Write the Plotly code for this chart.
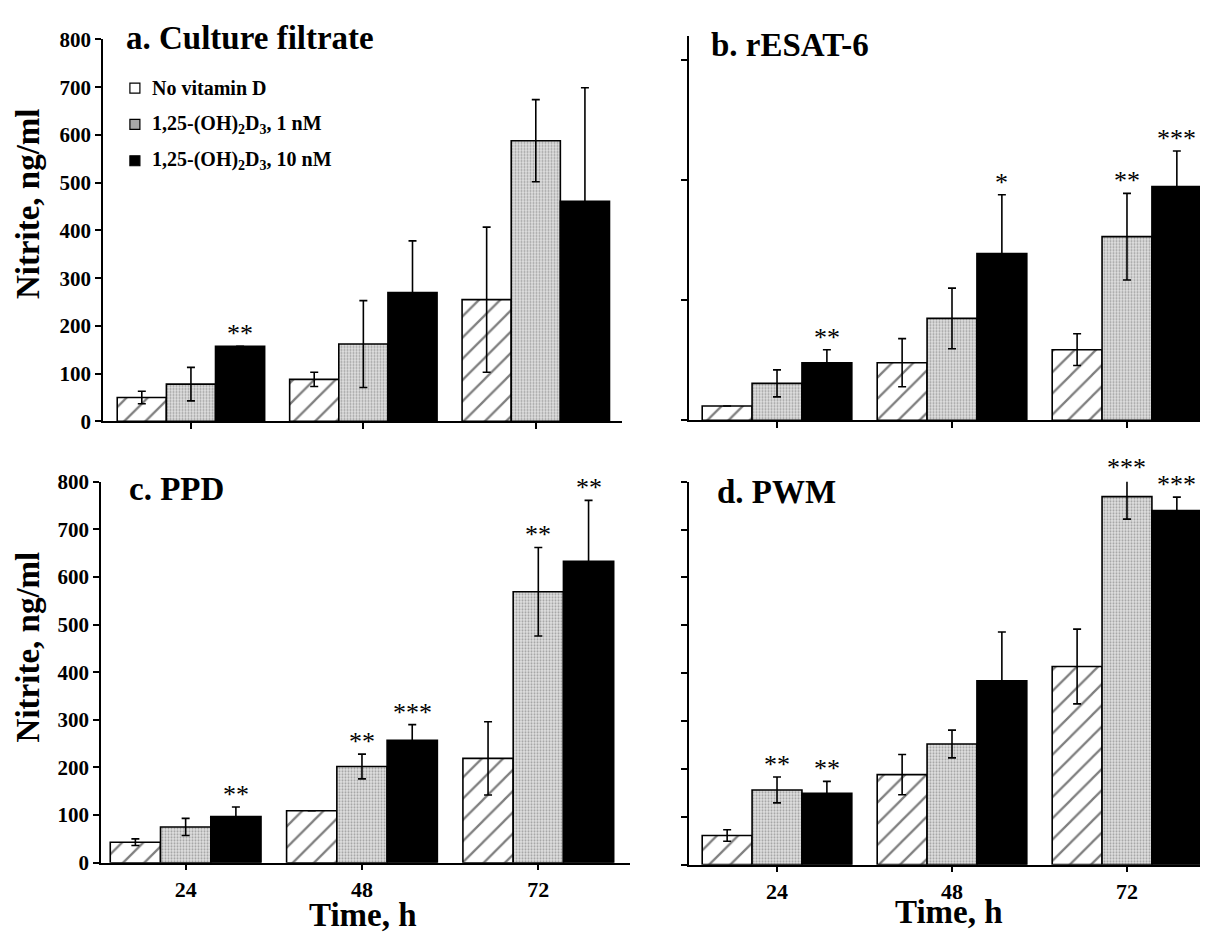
import plotly.graph_objects as go

# ---------------- data ----------------
times = ["24", "48", "72"]
series_names = [
    "No vitamin D",
    "1,25-(OH)<sub>2</sub>D<sub>3</sub>, 1 nM",
    "1,25-(OH)<sub>2</sub>D<sub>3</sub>, 10 nM",
]

# panel a: Culture filtrate
a_none = [50, 88, 255]
a_none_err = [13, 15, 152]
a_1nM = [78, 162, 588]
a_1nM_err = [35, 91, 86]
a_10nM = [157, 270, 461]
a_10nM_err = [0, 108, 238]
a_none_stars = ["", "", ""]
a_1nM_stars = ["", "", ""]
a_10nM_stars = ["**", "", ""]

# panel b: rESAT-6
b_none = [30, 120, 147]
b_none_err = [0, 50, 33]
b_1nM = [77, 212, 382]
b_1nM_err = [28, 63, 90]
b_10nM = [120, 347, 486]
b_10nM_err = [27, 122, 74]
b_none_stars = ["", "", ""]
b_1nM_stars = ["", "", "**"]
b_10nM_stars = ["**", "*", "***"]

# panel c: PPD
c_none = [43, 109, 219]
c_none_err = [7, 0, 77]
c_1nM = [75, 202, 569]
c_1nM_err = [18, 26, 93]
c_10nM = [97, 257, 633]
c_10nM_err = [20, 33, 128]
c_none_stars = ["", "", ""]
c_1nM_stars = ["", "**", "**"]
c_10nM_stars = ["**", "***", "**"]

# panel d: PWM
d_none = [61, 188, 414]
d_none_err = [12, 42, 78]
d_1nM = [156, 252, 769]
d_1nM_err = [27, 29, 47]
d_10nM = [149, 384, 740]
d_10nM_err = [25, 102, 28]
d_none_stars = ["", "", ""]
d_1nM_stars = ["**", "", "***"]
d_10nM_stars = ["**", "", "***"]

panel_titles = ["a. Culture filtrate", "b. rESAT-6", "c. PPD", "d. PWM"]
y_ticks_full = [0, 100, 200, 300, 400, 500, 600, 700, 800]
y_ticks_b = [0, 250, 500, 750]
x_title = "Time, h"
y_title = "Nitrite, ng/ml"

# ---------------- layout helpers ----------------
OFF = 8                      # page body margin of the browser
W, H = 1208 - OFF, 938 - OFF
FONT = "Liberation Serif"
YMAX = 800


def fx(px):
    return (px - OFF) / W


def fy(py):
    return 1 - (py - OFF) / H


BW = 0.285  # bar width in category units

panels = [
    dict(vals=[a_none, a_1nM, a_10nM], errs=[a_none_err, a_1nM_err, a_10nM_err],
         stars=[a_none_stars, a_1nM_stars, a_10nM_stars],
         xdom=(103, 622), ydom=(28, 420), xr=(-0.51, 2.5), yt=y_ticks_full,
         ylab=True, xlab=False, title=(124, 26)),
    dict(vals=[b_none, b_1nM, b_10nM], errs=[b_none_err, b_1nM_err, b_10nM_err],
         stars=[b_none_stars, b_1nM_stars, b_10nM_stars],
         xdom=(689, 1208), ydom=(24, 419), xr=(-0.503, 2.463), yt=y_ticks_b,
         ylab=False, xlab=False, title=(709, 34)),
    dict(vals=[c_none, c_1nM, c_10nM], errs=[c_none_err, c_1nM_err, c_10nM_err],
         stars=[c_none_stars, c_1nM_stars, c_10nM_stars],
         xdom=(101, 630), ydom=(482, 873), xr=(-0.48, 2.52), yt=y_ticks_full,
         ylab=True, xlab=True, title=(127, 489)),
    dict(vals=[d_none, d_1nM, d_10nM], errs=[d_none_err, d_1nM_err, d_10nM_err],
         stars=[d_none_stars, d_1nM_stars, d_10nM_stars],
         xdom=(689, 1208), ydom=(482, 875), xr=(-0.503, 2.463), yt=y_ticks_full,
         ylab=False, xlab=True, title=(715, 492)),
]


def bar_marker(k):
    line = dict(color="black", width=1.6)
    if k == 0:
        return dict(color="white", line=line,
                    pattern=dict(shape="/", fgcolor="black", bgcolor="white",
                                 size=15, solidity=0.15))
    if k == 1:
        return dict(color="#c8c8c8", line=line,
                    pattern=dict(shape=".", fgcolor="#5a5a5a", bgcolor="#e2e2e2",
                                 size=3, solidity=0.4))
    return dict(color="black", line=line)


fig = go.Figure()
annotations = []
layout_axes = {}

for p_i, p in enumerate(panels):
    n = p_i + 1
    xa = "x" if n == 1 else f"x{n}"
    ya = "y" if n == 1 else f"y{n}"
    xpos = list(range(len(times)))
    px_per_unit = (p["ydom"][1] - p["ydom"][0]) / YMAX
    for k in range(3):
        fig.add_trace(go.Bar(
            x=xpos, y=p["vals"][k], width=BW, offset=-1.5 * BW + k * BW,
            marker=bar_marker(k),
            error_y=dict(type="data", array=p["errs"][k], symmetric=True,
                         color="black", thickness=1.6, width=4),
            xaxis=xa, yaxis=ya, showlegend=False, name=series_names[k],
        ))
        for i, s in enumerate(p["stars"][k]):
            if s:
                top = p["vals"][k][i] + p["errs"][k][i]
                extra = max(0, top - YMAX) * px_per_unit
                annotations.append(dict(
                    x=i + (k - 1) * BW, y=min(top, YMAX),
                    xref=xa, yref=ya, text=s, showarrow=False,
                    yanchor="bottom", yshift=-4 + extra - (6 if extra else 0),
                    font=dict(family=FONT, size=26, color="black")))
    xkey = "xaxis" if n == 1 else f"xaxis{n}"
    ykey = "yaxis" if n == 1 else f"yaxis{n}"
    layout_axes[xkey] = dict(
        domain=[fx(p["xdom"][0]), min(1, fx(p["xdom"][1]))], range=list(p["xr"]),
        anchor=ya, tickvals=xpos, ticktext=times, showticklabels=p["xlab"],
        ticks="outside", ticklen=6, tickwidth=1.5, tickcolor="black",
        showline=True, linecolor="black", linewidth=1.6,
        showgrid=False, zeroline=False,
        tickfont=dict(family=FONT, size=22, color="black", weight="bold"))
    layout_axes[ykey] = dict(
        domain=[fy(p["ydom"][1]), fy(p["ydom"][0])], range=[0, YMAX],
        anchor=xa, tickvals=p["yt"], showticklabels=p["ylab"],
        ticks="outside", ticklen=6, tickwidth=1.5, tickcolor="black",
        showline=True, linecolor="black", linewidth=1.6,
        showgrid=False, zeroline=False,
        tickfont=dict(family=FONT, size=21, color="black", weight="bold"))
    # panel title
    annotations.append(dict(
        x=fx(p["title"][0]), y=fy(p["title"][1]), xref="paper", yref="paper",
        xanchor="left", yanchor="middle", showarrow=False,
        text="<b>" + panel_titles[p_i] + "</b>",
        font=dict(family=FONT, size=33, color="black")))

# legend inside panel a
leg_y = [698, 622, 546]
fig.add_trace(go.Scatter(
    x=[-0.325] * 3, y=leg_y, mode="markers", xaxis="x", yaxis="y",
    marker=dict(symbol=["square-open", "square", "square"], size=10,
                color=["black", "#a8a8a8", "black"],
                line=dict(color="black", width=1.2)),
    showlegend=False, hoverinfo="skip"))
for name, yv in zip(series_names, leg_y):
    annotations.append(dict(
        x=-0.235, y=yv, xref="x", yref="y", xanchor="left", yanchor="middle",
        showarrow=False, text="<b>" + name + "</b>",
        font=dict(family=FONT, size=20, color="black")))

# axis titles
for cy in (197, 652):
    annotations.append(dict(
        x=fx(28), y=fy(cy), xref="paper", yref="paper", textangle=-90,
        xanchor="center", yanchor="middle", showarrow=False,
        text="<b>" + y_title + "</b>",
        font=dict(family=FONT, size=33, color="black")))
for cx, cy in ((363, 927), (949, 924)):
    annotations.append(dict(
        x=fx(cx), y=fy(cy), xref="paper", yref="paper",
        xanchor="center", yanchor="middle", showarrow=False,
        text="<b>" + x_title + "</b>",
        font=dict(family=FONT, size=33, color="black")))

fig.update_layout(
    width=W, height=H, margin=dict(l=0, r=0, t=0, b=0),
    paper_bgcolor="white", plot_bgcolor="white",
    barmode="overlay", annotations=annotations,
    font=dict(family=FONT, color="black"),
    **layout_axes)

fig.write_html("out.html")
